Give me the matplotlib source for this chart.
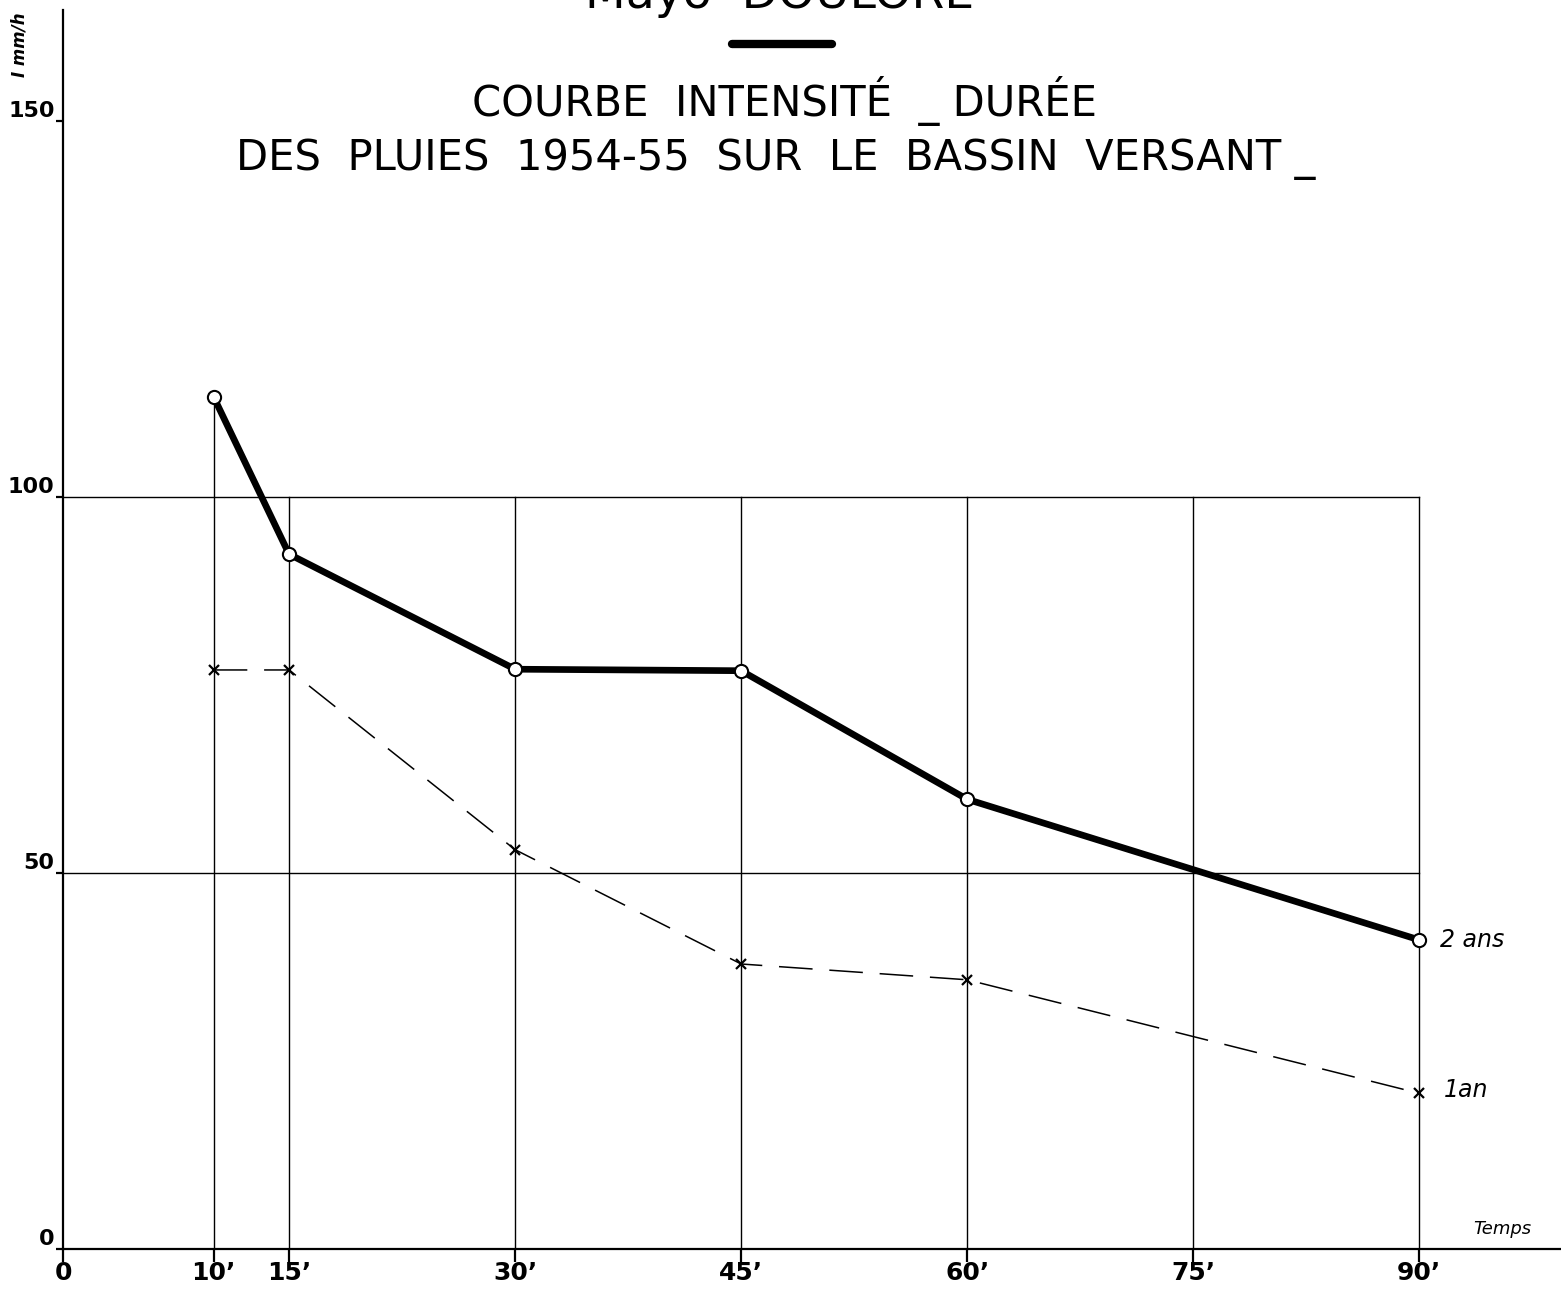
import matplotlib
matplotlib.use("Agg")
import matplotlib.pyplot as plt

# Data
durations = [10, 15, 30, 45, 60, 90]
intensity_2ans = [113.3, 92.4, 77.1, 76.9, 59.8, 41.1]
intensity_1an = [77.0, 77.0, 53.1, 37.9, 35.8, 20.7]
xtick_values = [0, 10, 15, 30, 45, 60, 75, 90]
xtick_labels = ["0", "10\u2019", "15\u2019", "30\u2019", "45\u2019", "60\u2019", "75\u2019", "90\u2019"]
ytick_values = [0, 50, 100, 150]
ytick_labels = ["0", "50", "100", "150"]
grid_x = [10, 15, 30, 45, 60, 75, 90]
grid_y = [50, 100]

W, H = 1561, 1292
fig = plt.figure(figsize=(W / 100, H / 100), dpi=100)
x0px, y0px, x1px, y1px = 63, 1249, 1561, 10
ax = fig.add_axes([x0px / W, (H - y0px) / H, (x1px - x0px) / W, (y0px - y1px) / H])
xmax = (x1px - x0px) / 15.07
ymax = (y0px - y1px) / 7.52
ax.set_xlim(0, xmax)
ax.set_ylim(0, ymax)

for s in ["top", "right"]:
    ax.spines[s].set_visible(False)
ax.spines["left"].set_linewidth(1.6)
ax.spines["bottom"].set_linewidth(1.6)

# grid
for gy in grid_y:
    ax.plot([0, 90], [gy, gy], color="black", lw=1.0, zorder=1)
for gx in grid_x:
    top = 100
    if gx == durations[0]:
        top = intensity_2ans[0]
    ax.plot([gx, gx], [0, top], color="black", lw=1.0, zorder=1)

# series
ax.plot(durations, intensity_1an, color="black", lw=1.1, dashes=(22, 11),
        marker="x", markersize=7, markeredgewidth=1.6, zorder=3)
ax.plot(durations, intensity_2ans, color="black", lw=4.8, solid_capstyle="round",
        marker="o", markersize=9.5, markerfacecolor="white", markeredgecolor="black",
        markeredgewidth=1.5, zorder=4)

ax.text(91.4, intensity_2ans[-1], "2 ans", fontsize=17, style="italic", va="center", ha="left")
ax.text(91.6, intensity_1an[-1] + 0.5, "1an", fontsize=17, style="italic", va="center", ha="left")

# ticks
ax.set_xticks(xtick_values)
ax.set_xticklabels(xtick_labels, fontsize=18, fontweight="bold")
ax.tick_params(axis="x", direction="out", length=9, width=1.6, pad=0)
ax.set_yticks(ytick_values)
ax.set_yticklabels(ytick_labels, fontsize=16, fontweight="bold")
ax.tick_params(axis="y", direction="out", length=5, width=1.6, pad=1)
for lab in ax.get_yticklabels():
    lab.set_va("bottom")

# axis labels
ax.text(95.5, 1.5, "Temps", fontsize=13, style="italic", ha="center", va="bottom")
fig.text(20 / W, 1 - 45 / H, "I mm/h", fontsize=12, style="italic", rotation=90,
         ha="center", va="center", fontweight="bold")

# titles
fig.text(780 / W, 1 + 4 / H, "Mayo  DOULORE", fontsize=34, ha="center", va="center")
fig.add_artist(plt.Line2D([732 / W, 832 / W], [1 - 44 / H, 1 - 44 / H], color="black", lw=6,
                          solid_capstyle="round"))
fig.text(784 / W, 1 - 101 / H, "COURBE  INTENSITÉ  _ DURÉE", fontsize=30, ha="center", va="center")
fig.text(776 / W, 1 - 159 / H, "DES  PLUIES  1954-55  SUR  LE  BASSIN  VERSANT _", fontsize=30,
         ha="center", va="center")

fig.savefig("out.png", dpi=100)
